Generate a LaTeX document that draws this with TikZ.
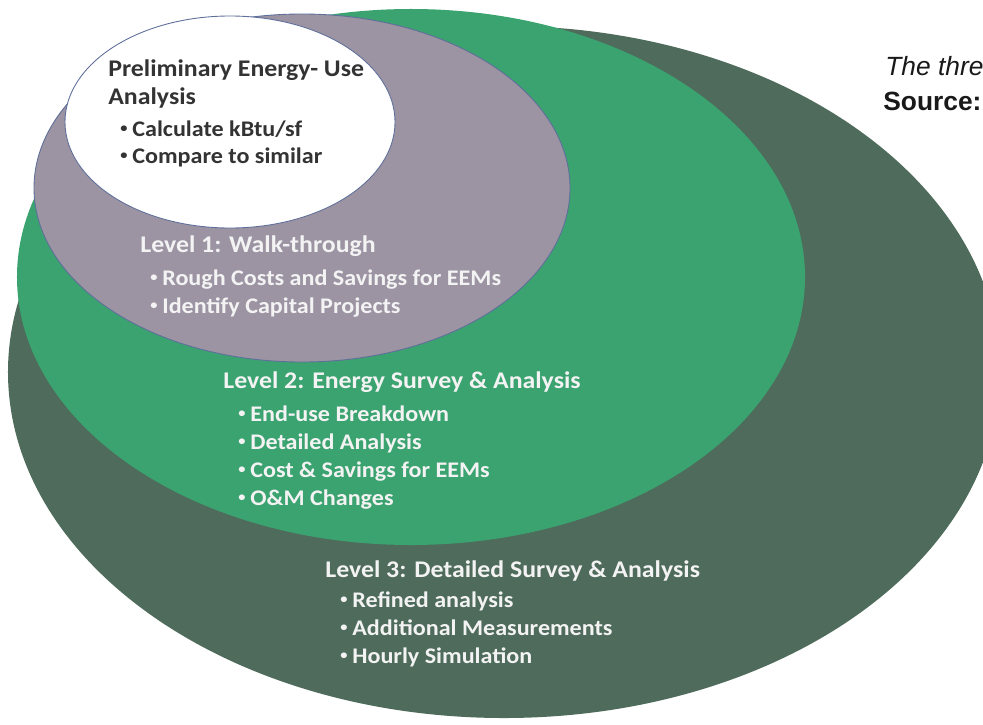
\documentclass[tikz,border=0pt]{standalone}
\usepackage{fontspec}
\setmainfont{Carlito}
\newfontfamily\wideCarlito[FakeStretch=1.08]{Carlito}
\newfontfamily\notefont{Liberation Sans}
\usepackage{tikz}
\usetikzlibrary{shapes.geometric}
\definecolor{levelthree}{HTML}{4E6B5B}
\definecolor{leveltwo}{HTML}{3BA370}
\definecolor{levelone}{HTML}{9C93A3}
\definecolor{rimblue}{HTML}{5E6F9A}
\definecolor{inktext}{HTML}{333333}
\definecolor{paletext}{HTML}{F3F3F3}
\newcommand{\dotmark}{\makebox[0.24cm][l]{\raisebox{0.14em}{\scalebox{0.6}{•}}}}

\begin{document}
\begin{tikzpicture}[
  x=0.2mm, y=-0.2mm,
  zone/.style={
    ellipse,
    inner sep=0pt,
  },
  heading/.style={
    anchor=base west,
    inner sep=0pt,
    font=\wideCarlito\fontsize{13.6}{16}\selectfont\bfseries,
    text=paletext,
  },
  item/.style={
    heading,
    font=\wideCarlito\fontsize{12.7}{15}\selectfont\bfseries,
  },
  note/.style={
    anchor=base west,
    inner sep=0pt,
    text=black!90,
  },
]
  \useasboundingbox (0,0) rectangle (983,724);
  \clip (0,0) rectangle (983,724);

  \node[zone, fill=levelthree, minimum width=19.84cm, minimum height=13.84cm] (level3) at (504,372) {};
  \node[zone, fill=leveltwo, minimum width=15.76cm, minimum height=10.72cm] (level2) at (411,277) {};
  \node[zone, fill=levelone, draw=rimblue, line width=0.5pt, minimum width=10.72cm, minimum height=6.96cm] (level1) at (302,188) {};
  \node[zone, fill=white, draw=rimblue, line width=0.5pt, minimum width=6.6cm, minimum height=4.24cm] (prelim) at (230,122) {};

  \node[heading, text=inktext] (prelimhead) at (108,76) {Preliminary Energy- Use};
  \node[heading, text=inktext] (prelimhead2) at (108,104) {Analysis};
  \node[item, text=inktext] (prelimA) at (120,136) {\dotmark Calculate kBtu/sf};
  \node[item, text=inktext] (prelimB) at (120,163) {\dotmark Compare to similar};

  \node[heading] (onehead) at (140,252) {Level 1: Walk-through};
  \node[item] (oneA) at (150,285) {\dotmark Rough Costs and Savings for EEMs};
  \node[item] (oneB) at (150,313) {\dotmark Identify Capital Projects};

  \node[heading] (twohead) at (223,388) {Level 2: Energy Survey \& Analysis};
  \node[item] (twoA) at (238,421) {\dotmark End-use Breakdown};
  \node[item] (twoB) at (238,449) {\dotmark Detailed Analysis};
  \node[item] (twoC) at (238,477) {\dotmark Cost \& Savings for EEMs};
  \node[item] (twoD) at (238,505) {\dotmark O\&M Changes};

  \node[heading] (threehead) at (325,577) {Level 3: Detailed Survey \& Analysis};
  \node[item] (threeA) at (340,607) {\dotmark Refined analysis};
  \node[item] (threeB) at (340,635) {\dotmark Additional Measurements};
  \node[item] (threeC) at (340,663) {\dotmark Hourly Simulation};

  \node[note, font=\notefont\fontsize{15}{18}\selectfont\itshape] (notetitle) at (885,75) {The thre};
  \node[note, font=\notefont\fontsize{15}{18}\selectfont\bfseries] (notesource) at (883,110) {Source:};
\end{tikzpicture}
\end{document}
